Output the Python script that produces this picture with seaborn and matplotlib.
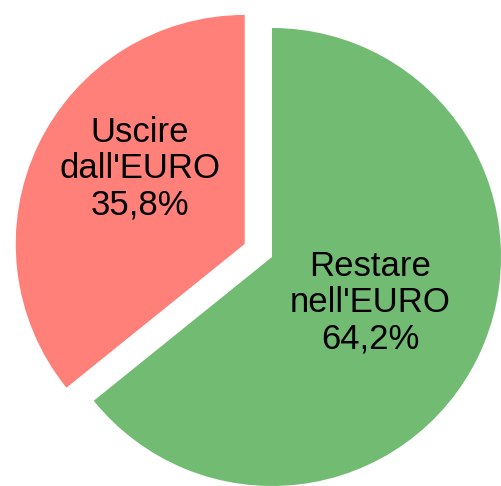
import matplotlib
matplotlib.use("Agg")
import matplotlib.pyplot as plt
import seaborn as sns

# dati
etichette = ["Restare\nnell'EURO", "Uscire\ndall'EURO"]
percentuali = [64.2, 35.8]
colori = ["#72BB72", "#FF7F79"]
esplodi = [0, 0.132]

sns.set_theme(style="white")
plt.rcParams['font.family'] = ['Liberation Sans', 'DejaVu Sans']

fig = plt.figure(figsize=(5.02, 4.86), dpi=100)
ax = fig.add_axes([0, 0, 1, 1])

r = 229
wedges, _ = ax.pie(percentuali, colors=colori, explode=esplodi, startangle=90,
                   counterclock=False, radius=1, center=(0, 0),
                   wedgeprops=dict(linewidth=0))

# posizioni testi
pos_testi = [(0.428, -0.20), (-0.576, 0.385)]
for lab, p, (x, y) in zip(etichette, percentuali, pos_testi):
    testo = lab + "\n" + ("%.1f" % p).replace(".", ",") + "%"
    ax.text(x, y, testo, ha="center", va="center", fontsize=25, color="black",
            linespacing=1.13)

ax.set_xlim(-272 / r, (502 - 272) / r)
ax.set_ylim((257 - 486) / r, 257 / r)
ax.set_aspect("equal")
ax.axis("off")

fig.savefig("out.png", dpi=100)
